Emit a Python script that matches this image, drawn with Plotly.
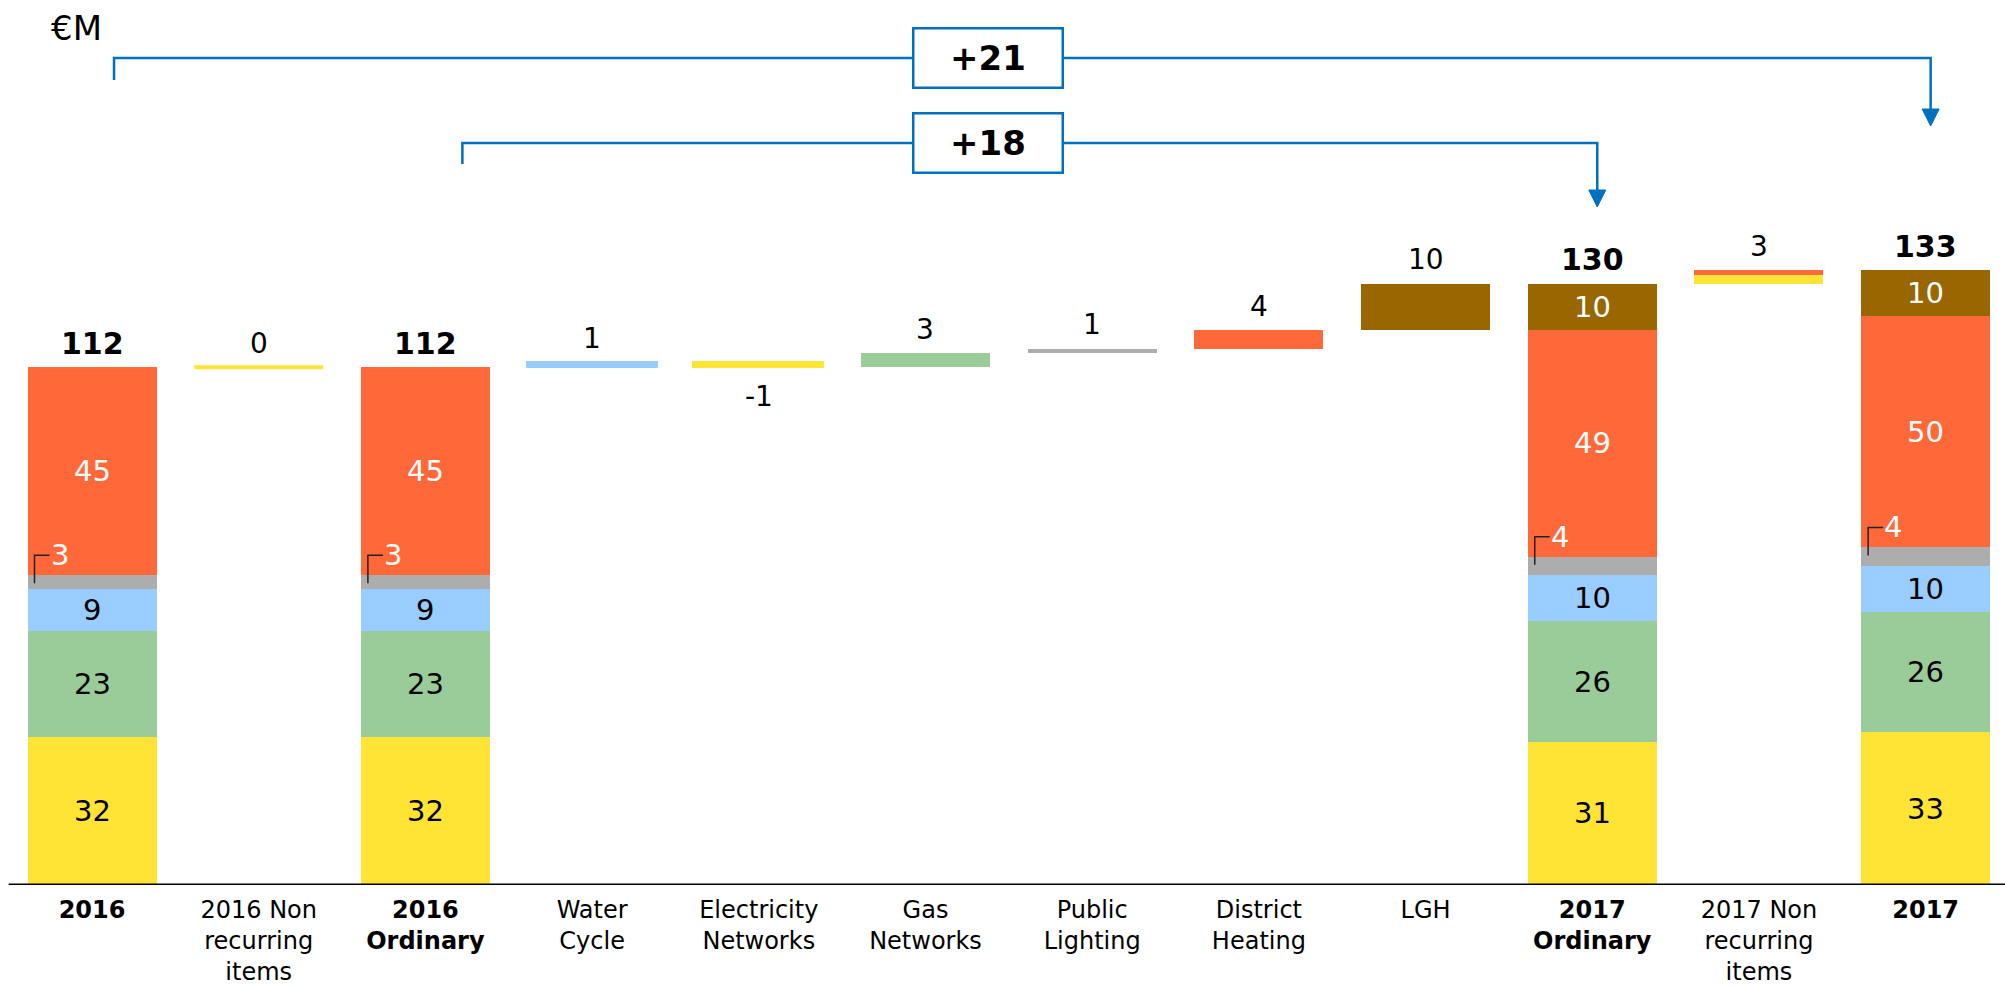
import plotly.graph_objects as go

# ---------------- data ----------------
categories = ["2016", "2016 Non recurring items", "2016 Ordinary", "Water Cycle",
              "Electricity Networks", "Gas Networks", "Public Lighting", "District Heating",
              "LGH", "2017 Ordinary", "2017 Non recurring items", "2017"]
tick_labels = ["<b>2016</b>", "2016 Non<br>recurring<br>items", "<b>2016</b><br><b>Ordinary</b>",
               "Water<br>Cycle", "Electricity<br>Networks", "Gas<br>Networks", "Public<br>Lighting",
               "District<br>Heating", "LGH", "<b>2017</b><br><b>Ordinary</b>",
               "2017 Non<br>recurring<br>items", "<b>2017</b>"]

# stacked total bars (2016, 2016 Ordinary, 2017 Ordinary, 2017)
total_idx = [0, 2, 9, 11]
total_elec = [32, 32, 31, 33]
total_gas = [23, 23, 26, 26]
total_water = [9, 9, 10, 10]
total_light = [3, 3, 4, 4]
total_heat = [45, 45, 49, 50]
total_lgh = [0, 0, 10, 10]
totals = [112, 112, 130, 133]

# floating delta bars
delta_idx = [1, 3, 4, 5, 6, 7, 8, 10]
delta_elec = [0, 0, -1, 0, 0, 0, 0, 2]
delta_gas = [0, 0, 0, 3, 0, 0, 0, 0]
delta_water = [0, 1, 0, 0, 0, 0, 0, 0]
delta_light = [0, 0, 0, 0, 1, 0, 0, 0]
delta_heat = [0, 0, 0, 0, 0, 4, 0, 1]
delta_lgh = [0, 0, 0, 0, 0, 0, 10, 0]

# bridges (from total position -> to total position, positions in total_idx)
bridge_from = [0, 1]
bridge_to = [3, 2]

# ---------------- layout / style ----------------
W, H = 2005, 987
MARGIN_B = 102
PLOT_H = H - MARGIN_B
X_MIN, X_MAX = -0.552, 11.476
Y_MAX = 191.4
PX_X = W / (X_MAX - X_MIN)
PX_Y = PLOT_H / Y_MAX
BAR_W = 0.774
FONT = "DejaVu Sans"
BLUE = "#0070C0"

KEYS = ["elec", "gas", "water", "light", "heat", "lgh"]
COLORS = {"elec": "#FFE335", "gas": "#99CC99", "water": "#99CCFF",
          "light": "#ADADAD", "heat": "#FF6838", "lgh": "#996600"}
TXT = {"elec": "black", "gas": "black", "water": "black",
       "light": "white", "heat": "white", "lgh": "white"}
total_vals = {"elec": total_elec, "gas": total_gas, "water": total_water,
              "light": total_light, "heat": total_heat, "lgh": total_lgh}
delta_vals = {"elec": delta_elec, "gas": delta_gas, "water": delta_water,
              "light": delta_light, "heat": delta_heat, "lgh": delta_lgh}


def px2y(px_from_top):
    return (PLOT_H - px_from_top) / PX_Y


fig = go.Figure()
annotations = []
shapes = []

# ---- stacked totals ----
for j, idx in enumerate(total_idx):
    base = 0
    for key in KEYS:
        v = total_vals[key][j]
        if v <= 0:
            continue
        fig.add_trace(go.Bar(x=[idx], y=[v], base=[base], width=BAR_W,
                             marker=dict(color=COLORS[key], line=dict(width=0)),
                             showlegend=False, hoverinfo="skip"))
        if key == "light":
            left = idx - BAR_W / 2
            top = base + v
            lx = left + 7 / PX_X
            ly0 = top - 8 / PX_Y
            ly1 = top + 20 / PX_Y
            shapes.append(dict(type="path", xref="x", yref="y",
                               path=f"M {lx},{ly0} L {lx},{ly1} L {left + 22 / PX_X},{ly1}",
                               line=dict(color="#222222", width=1.5)))
            annotations.append(dict(x=left + 32 / PX_X, y=ly1, text=str(v), showarrow=False,
                                    xanchor="center", yanchor="middle",
                                    font=dict(family=FONT, size=29, color="white")))
        else:
            annotations.append(dict(x=idx, y=base + v / 2, text=str(v), showarrow=False,
                                    yanchor="middle",
                                    font=dict(family=FONT, size=29, color=TXT[key])))
        base += v
    annotations.append(dict(x=idx, y=totals[j], text=f"<b>{totals[j]}</b>", showarrow=False,
                            yanchor="middle", yshift=24,
                            font=dict(family=FONT, size=30, color="black")))

# ---- floating deltas ----
running = totals[0]
for k, idx in enumerate(delta_idx):
    d = sum(delta_vals[key][k] for key in KEYS)
    up = running
    down = running
    for key in KEYS:
        v = delta_vals[key][k]
        if v == 0:
            continue
        thick = key in ("water", "elec") and abs(v) == 1
        if v > 0:
            b = up
            up += v
        else:
            b = down
            down += v
        fig.add_trace(go.Bar(x=[idx], y=[v], base=[b], width=BAR_W,
                             marker=dict(color=COLORS[key],
                                         line=dict(width=3 if thick else 0, color=COLORS[key])),
                             showlegend=False, hoverinfo="skip"))
    if d == 0:
        fig.add_trace(go.Scatter(x=[idx - BAR_W / 2, idx + BAR_W / 2], y=[running, running],
                                 mode="lines", line=dict(color=COLORS["elec"], width=4),
                                 showlegend=False, hoverinfo="skip"))
    if d >= 0:
        annotations.append(dict(x=idx, y=running + d, text=str(d), showarrow=False,
                                yanchor="middle", yshift=24,
                                font=dict(family=FONT, size=28, color="black")))
    else:
        annotations.append(dict(x=idx, y=running, text=str(d), showarrow=False,
                                yanchor="middle", yshift=-34,
                                font=dict(family=FONT, size=28, color="black")))
    running += d

# ---- bridges ----
bridge_style = [
    dict(dx_from=22, dx_to=5, y_low=80, y_h=58, y_tip=126),
    dict(dx_from=37, dx_to=5, y_low=164, y_h=143, y_tip=207),
]
for b, (fi, ti) in enumerate(zip(bridge_from, bridge_to)):
    st = bridge_style[b]
    x0 = total_idx[fi] + st["dx_from"] / PX_X
    x1 = total_idx[ti] + st["dx_to"] / PX_X
    yl, yh, yt = px2y(st["y_low"]), px2y(st["y_h"]), px2y(st["y_tip"])
    head = 17
    yhead = px2y(st["y_tip"] - head)
    shapes.append(dict(type="path", xref="x", yref="y",
                       path=f"M {x0},{yl} L {x0},{yh} L {x1},{yh} L {x1},{yhead}",
                       line=dict(color=BLUE, width=2.5)))
    hw = 8.5 / PX_X
    shapes.append(dict(type="path", xref="x", yref="y",
                       path=f"M {x1 - hw},{yhead} L {x1 + hw},{yhead} L {x1},{yt} Z",
                       fillcolor=BLUE, line=dict(color=BLUE, width=1)))
    diff = totals[ti] - totals[fi]
    annotations.append(dict(xref="paper", x=988 / W, y=yh, text=f"<b>+{diff}</b>",
                            showarrow=False, xanchor="center", yanchor="middle",
                            width=147, height=57, borderpad=0, borderwidth=2.5,
                            bordercolor=BLUE, bgcolor="white",
                            font=dict(family=FONT, size=34, color="black")))

# axis baseline
shapes.append(dict(type="line", xref="x", yref="y", x0=-0.5, x1=X_MAX, y0=0, y1=0,
                   line=dict(color="black", width=3)))

# unit label
annotations.append(dict(xref="paper", yref="paper", x=49 / W, y=1 - 28 / PLOT_H, text="€M",
                        showarrow=False, xanchor="left", yanchor="middle",
                        font=dict(family=FONT, size=34, color="black")))

fig.update_layout(
    width=W, height=H,
    margin=dict(l=0, r=0, t=0, b=MARGIN_B, autoexpand=False),
    paper_bgcolor="white", plot_bgcolor="white",
    barmode="overlay", bargap=0,
    showlegend=False,
    font=dict(family=FONT, color="black"),
    xaxis=dict(range=[X_MIN, X_MAX], tickmode="array", tickvals=list(range(len(categories))),
               ticktext=tick_labels, showgrid=False, zeroline=False, showline=False,
               automargin=False,
               ticks="outside", ticklen=3, tickcolor="rgba(0,0,0,0)",
               tickfont=dict(family=FONT, size=24, color="black"), fixedrange=True),
    yaxis=dict(range=[0, Y_MAX], visible=False, fixedrange=True, automargin=False),
    annotations=annotations,
    shapes=shapes,
)

fig.write_html("out.html")
